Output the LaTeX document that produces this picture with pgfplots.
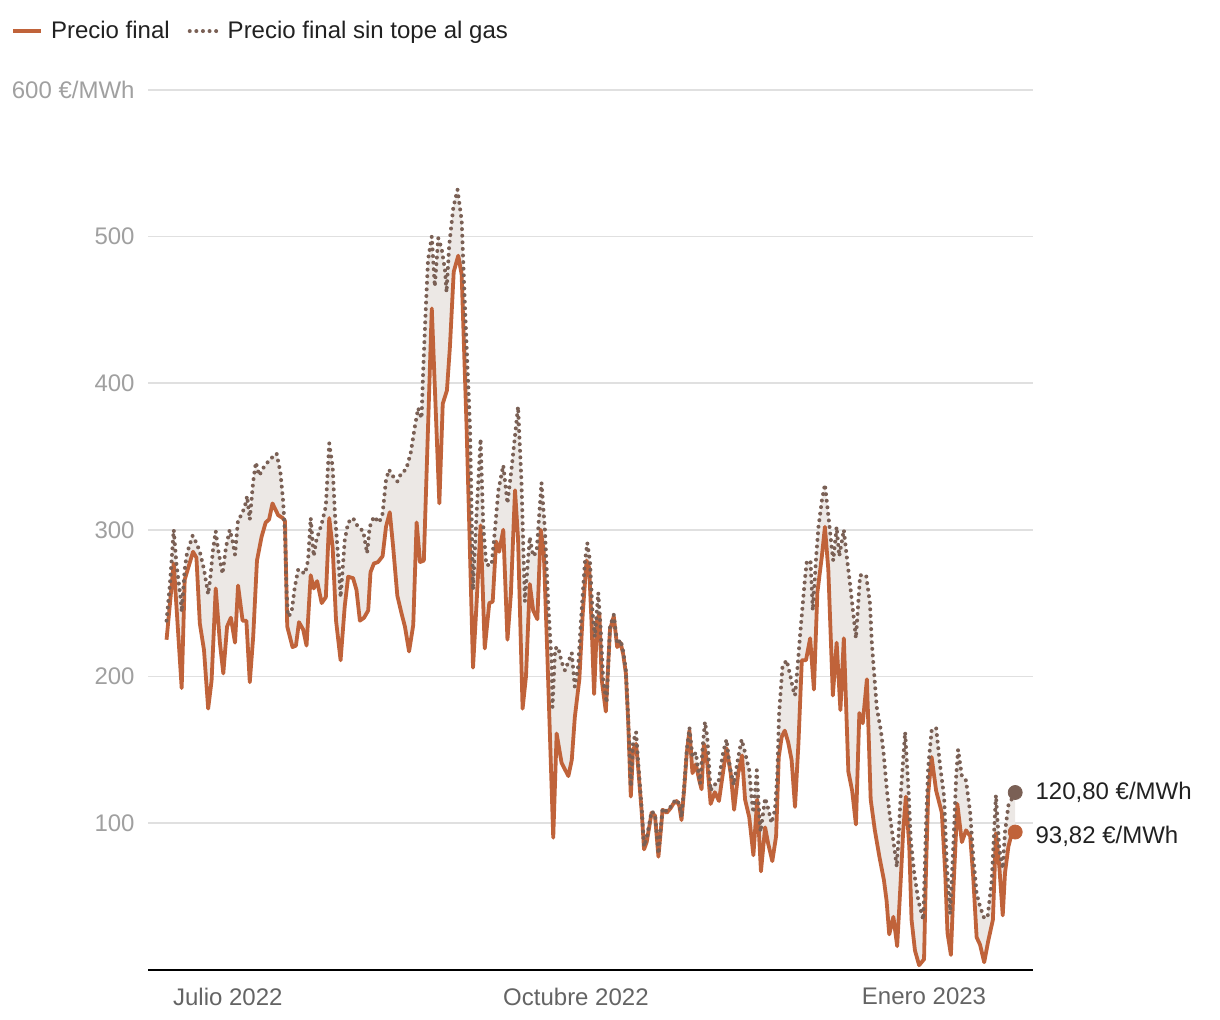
\documentclass[border=0pt]{standalone}
\usepackage{fontspec}
\setmainfont{Liberation Sans}
\usepackage{pgfplots}
\pgfplotsset{compat=1.18}
\usepgfplotslibrary{fillbetween}

\definecolor{final}{RGB}{192,99,58}
\definecolor{sintope}{RGB}{122,96,85}
\definecolor{gapfill}{RGB}{236,232,229}
\definecolor{gridc}{RGB}{224,224,224}
\definecolor{ytc}{RGB}{160,160,160}
\definecolor{xtc}{RGB}{100,100,100}

\begin{document}
\begin{tikzpicture}[font=\fontsize{12pt}{14pt}\selectfont]
\begin{axis}[
    at={(74pt,25.2pt)}, anchor=south west,
    scale only axis,
    width=442.5pt, height=439.8pt,
    xmin=-21.1, xmax=212.8,
    ymin=0, ymax=600,
    axis x line=bottom, axis y line=left,
    x axis line style={-, black, line width=1pt},
    y axis line style={draw=none},
    major tick length=0pt,
    tick style={draw=none},
    xtick={0,92,184},
    xticklabels={Julio 2022, Octubre 2022, Enero 2023},
    ytick={100,200,300,400,500,600},
    yticklabels={100,200,300,400,500,600 €/MWh},
    /pgf/number format/assume math mode=true,
    xticklabel style={text=xtc, inner sep=0pt, anchor=north, yshift=-9pt},
    yticklabel style={text=ytc, inner sep=0pt, anchor=east, xshift=-6.5pt},
    ymajorgrids,
    grid style={gridc, line width=0.8pt},
    clip=false,
    legend style={at={(axis description cs:-0.155,1.067)}, anchor=west,
        draw=none, fill=none, legend columns=2, inner sep=0pt,
        /tikz/every even column/.append style={column sep=7pt},
        text=black!87},
    legend cell align=left,
    legend image code/.code={\draw[#1] (0pt,0pt) -- (14pt,0pt); \path (16pt,0pt);},
]
\addplot[name path=final, color=final, line width=1.9pt, line join=round] coordinates {
(-16.2,225) (-14.3,277) (-12.2,192) (-11.4,266) (-9.2,285) (-8.3,281) (-7.4,236) (-6.3,218)
(-5.2,178) (-4.3,197) (-3.2,260) (-2.1,223) (-1.2,202) (-0.2,234) (0.8,240) (1.9,223)
(2.7,262) (3.9,238) (4.9,238) (5.8,196) (6.7,227) (7.7,279) (8.9,295) (10.0,305)
(10.9,307) (11.8,318) (13.3,310) (14.5,308) (15.1,306) (15.7,234) (17.1,220) (18.0,221)
(18.8,237) (19.9,232) (20.8,221) (21.9,269) (22.7,260) (23.6,265) (24.8,250) (25.9,254)
(26.8,308) (27.7,288) (28.6,238) (29.8,211) (30.9,248) (31.8,268) (33.1,267) (34.0,259)
(34.9,238) (36.0,240) (37.1,245) (37.7,271) (38.6,277) (39.7,278) (40.9,282) (41.8,302)
(42.8,312) (43.7,288) (44.8,255) (45.9,243) (46.8,234) (47.9,217) (49.0,235) (49.9,305)
(50.8,278) (51.8,279) (53.9,451) (55.9,318) (56.8,386) (57.9,395) (58.7,425) (59.7,476)
(60.9,487) (61.8,474) (63.1,370) (63.9,294) (64.8,206) (65.7,248) (66.8,303) (67.9,219)
(69.1,250) (70.0,251) (70.9,292) (71.7,285) (72.8,300) (73.9,225) (74.8,256) (75.9,327)
(76.7,294) (77.9,178) (78.8,200) (79.8,263) (80.7,245) (81.8,239) (82.7,300) (83.5,285)
(84.4,218) (86.0,90) (86.9,161) (88.2,141) (90.0,132) (90.9,143) (91.7,172) (92.9,198)
(93.8,243) (94.8,279) (95.5,274) (96.1,238) (96.8,188) (97.6,238) (98.2,243) (98.8,198)
(99.9,176) (101.0,232) (102.0,241) (102.9,220) (103.8,223) (104.5,215) (105.2,202) (105.8,170)
(106.5,118) (107.1,150) (107.9,154) (108.5,136) (109.4,107) (110.0,82) (110.7,87) (112.0,107)
(112.9,105) (113.8,77) (114.4,94) (114.9,109) (116.0,107) (117.0,110) (117.7,113) (118.6,115)
(119.3,112) (119.9,102) (120.6,123) (121.3,148) (122.0,163) (122.8,134) (123.7,140) (124.6,129)
(125.2,123) (125.8,154) (126.7,141) (127.6,113) (128.7,121) (129.8,115) (130.9,135) (131.8,151)
(132.9,134) (133.8,109) (134.9,134) (135.9,146) (136.7,116) (137.8,104) (138.9,78) (139.9,116)
(140.9,67) (142.0,97) (142.8,86) (143.9,74) (144.9,91) (145.6,145) (146.4,159) (147.2,163)
(148.1,155) (149.0,143) (149.9,111) (150.8,154) (151.7,211) (152.8,211) (153.9,226) (154.9,191)
(155.8,257) (157.0,282) (157.8,302) (158.7,273) (159.9,187) (160.9,223) (161.9,177) (162.8,226)
(164.0,135) (165.0,122) (166.0,99) (166.9,175) (167.8,168) (168.9,198) (169.9,116) (171.0,95)
(172.2,77) (173.4,61) (174.1,47) (174.8,24) (175.9,36) (176.9,16) (177.8,59) (178.5,95)
(179.2,118) (180.1,84) (180.7,34) (181.6,13) (182.7,3) (184.0,7) (184.5,66) (185.1,120)
(186.0,145) (187.2,122) (188.7,107) (189.6,66) (190.2,25) (191.1,10) (191.8,57) (192.8,113)
(194.0,87) (195.1,95) (196.2,91) (197.0,63) (197.9,22) (198.8,17) (199.9,5) (201.0,20)
(202.2,34) (203.0,93) (203.9,70) (204.8,37) (205.4,66) (206.3,84) (207.2,93) (208.1,93.82)
};
\addlegendentry{Precio final}
\addplot[name path=sintope, color=sintope, line width=2pt, line cap=round,
    dash pattern=on 0pt off 3.3pt] coordinates {
(-16.2,238) (-15.3,263) (-14.3,300) (-13.6,277) (-12.5,254) (-12.2,244) (-11.4,273) (-10.8,284)
(-9.3,296) (-8.3,291) (-7.4,285) (-6.3,273) (-5.2,256) (-4.6,268) (-3.9,287) (-3.2,299)
(-2.6,287) (-1.4,270) (-0.5,288) (0.5,300) (1.2,293) (1.9,283) (2.7,307) (3.6,310)
(4.5,316) (5.1,323) (5.8,307) (6.7,333) (7.4,346) (8.3,337) (9.3,342) (11.1,348)
(12.9,352) (13.9,339) (14.6,320) (15.1,298) (15.5,259) (15.9,241) (16.8,243) (17.7,261)
(18.6,273) (20.4,270) (21.2,279) (21.9,308) (22.7,282) (23.4,293) (24.8,304) (25.9,316)
(26.8,359) (27.7,343) (28.3,311) (29.4,273) (29.8,254) (30.9,293) (31.8,305) (33.1,308)
(34.4,302) (35.8,299) (36.8,284) (37.5,302) (38.6,309) (40.0,305) (40.9,311) (41.8,334)
(42.6,341) (43.5,337) (44.8,333) (45.9,339) (47.1,341) (48.3,352) (49.4,370) (50.3,383)
(51.2,376) (51.6,407) (52.3,450) (52.9,484) (53.9,500) (54.7,466) (55.6,499) (56.5,492)
(57.4,477) (57.8,462) (58.5,494) (59.6,520) (60.7,532) (61.8,511) (62.7,450) (64.0,370)
(64.8,259) (65.7,309) (66.8,362) (67.5,303) (68.3,276) (69.7,276) (70.6,300) (71.5,327)
(72.8,344) (73.9,318) (75.0,342) (76.7,384) (77.6,333) (78.5,251) (79.8,295) (80.7,282)
(81.6,285) (82.9,332) (83.8,300) (84.7,248) (85.6,209) (85.8,179) (86.5,219) (87.3,220)
(88.2,210) (89.1,204) (90.0,210) (90.9,216) (91.7,193) (92.6,207) (93.5,245) (94.4,279)
(95.0,291) (95.7,279) (96.4,243) (97.0,227) (97.9,257) (98.5,234) (99.2,198) (100.1,182)
(101.0,234) (102.0,242) (102.9,222) (103.8,225) (104.5,217) (105.2,204) (105.8,172) (106.5,125)
(107.1,155) (107.9,162) (108.5,140) (109.4,109) (110.0,84) (110.7,90) (112.0,108) (112.9,106)
(113.8,79) (114.4,96) (114.9,110) (116.0,108) (117.0,111) (117.7,114) (118.6,116) (119.3,113)
(119.9,104) (120.6,125) (121.3,150) (122.0,165) (122.8,145) (123.7,148) (124.8,127) (125.5,152)
(126.1,169) (126.7,159) (127.6,122) (128.3,126) (129.6,127) (130.9,148) (131.8,157) (132.7,138)
(133.7,126) (134.9,145) (135.8,157) (136.7,148) (137.8,136) (138.4,118) (138.9,107) (139.8,136)
(140.2,116) (140.8,94) (142.0,117) (142.8,110) (143.7,100) (144.6,109) (145.2,132) (145.7,175)
(146.6,207) (147.7,211) (148.7,200) (149.4,191) (149.9,187) (150.5,204) (151.2,227) (151.9,248)
(152.5,266) (153.0,278) (154.0,279) (154.6,245) (155.5,282) (156.1,302) (157.0,320) (157.8,331)
(158.7,310) (159.6,288) (160.0,279) (160.9,302) (161.6,282) (162.8,300) (163.7,279) (164.4,264)
(165.3,243) (166.0,226) (167.1,269) (168.7,269) (169.7,250) (170.2,223) (170.6,209) (171.5,179)
(172.6,163) (173.3,148) (174.2,122) (175.0,104) (175.9,88) (176.8,70) (177.2,88) (177.9,122)
(179.0,162) (179.9,122) (180.5,88) (181.4,66) (182.5,47) (183.8,34) (184.5,97) (185.1,138)
(186.0,163) (187.2,165) (188.2,140) (189.3,118) (190.0,72) (190.9,38) (191.8,88) (192.5,132)
(193.0,150) (194.0,132) (195.1,129) (196.2,107) (197.0,77) (197.9,52) (198.8,43) (199.9,35)
(200.8,36) (201.9,61) (202.5,93) (203.0,119) (203.9,82) (204.8,69) (205.4,94) (206.3,112)
(208.1,120.8)
};
\addlegendentry{Precio final sin tope al gas}
\addplot[gapfill, forget plot] fill between[of=final and sintope];
\addplot[only marks, mark=*, mark size=3.5pt, color=sintope, forget plot] coordinates {(208.1,120.8)};
\addplot[only marks, mark=*, mark size=3.5pt, color=final, forget plot] coordinates {(208.1,93.82)};
\node[anchor=west, text=black!87, inner sep=0pt] at (axis cs:208.1,120.8) [xshift=10pt] {120,80 €/MWh};
\node[anchor=west, text=black!87, inner sep=0pt] at (axis cs:208.1,93.82) [xshift=10pt, yshift=-2pt] {93,82 €/MWh};
\end{axis}
\path (0,0) rectangle (610pt,510pt);
\end{tikzpicture}
\end{document}
